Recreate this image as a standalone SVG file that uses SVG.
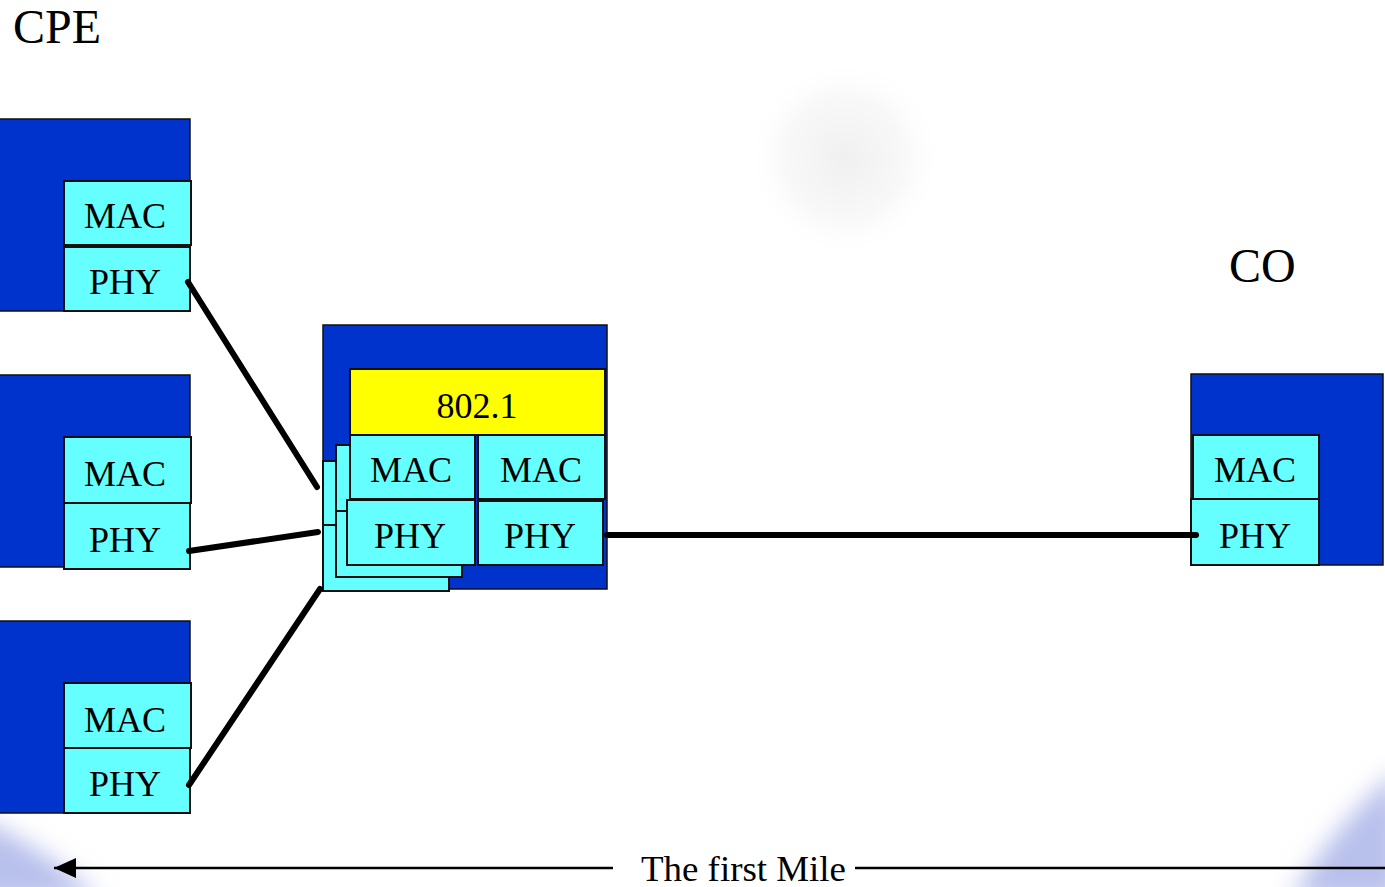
<svg xmlns="http://www.w3.org/2000/svg" width="1385" height="887" viewBox="0 0 1385 887">
<defs>
<style>
.blue{fill:#0033CC;stroke:#111;stroke-width:1.5}
.cy{fill:#66FFFF;stroke:#111;stroke-width:2}
.ye{fill:#FFFF00;stroke:#111;stroke-width:2}
.t{font-family:"Liberation Serif","Times New Roman",Times,serif;fill:#000}
.lb{font-size:36px;text-anchor:middle}
.link{stroke:#000;stroke-width:6;stroke-linecap:round;fill:none}
</style>
<radialGradient id="glow" cx="0.5" cy="0.5" r="0.5">
<stop offset="0" stop-color="#f0f0f0"/>
<stop offset="0.6" stop-color="#f8f8f8"/>
<stop offset="1" stop-color="#ffffff" stop-opacity="0"/>
</radialGradient>
<filter id="blur" x="-50%" y="-50%" width="200%" height="200%"><feGaussianBlur stdDeviation="12"/></filter>
<marker id="ah" markerWidth="24" markerHeight="22" refX="23" refY="11" orient="auto" markerUnits="userSpaceOnUse">
<path d="M23,11 L1,1 L1,21 Z" fill="#000"/>
</marker>
</defs>
<rect width="1385" height="887" fill="#fff"/>
<g id="background">
<ellipse cx="845" cy="158" rx="100" ry="100" fill="url(#glow)"/>
<path d="M-30,815 C20,835 70,870 100,900 L-30,900 Z" fill="#b8c0ec" filter="url(#blur)"/>
<path d="M1400,770 C1360,800 1320,850 1290,900 L1400,900 Z" fill="#b8c0ec" filter="url(#blur)"/>
</g>
<text class="t" x="13" y="43" font-size="48">CPE</text>
<text class="t" x="1229" y="282" font-size="48">CO</text>
<g id="cpe1">
<rect class="blue" x="-2" y="119" width="192" height="192"/>
<rect class="cy" x="64" y="181" width="127" height="64"/>
<rect class="cy" x="64" y="247" width="126" height="64"/>
<text class="t lb" x="125" y="228">MAC</text>
<text class="t lb" x="125" y="294">PHY</text>
</g>
<g id="cpe2">
<rect class="blue" x="-2" y="375" width="192" height="192"/>
<rect class="cy" x="64" y="437" width="127" height="66"/>
<rect class="cy" x="64" y="503" width="126" height="66"/>
<text class="t lb" x="125" y="486">MAC</text>
<text class="t lb" x="125" y="552">PHY</text>
</g>
<g id="cpe3">
<rect class="blue" x="-2" y="621" width="192" height="192"/>
<rect class="cy" x="64" y="683" width="127" height="65"/>
<rect class="cy" x="64" y="748" width="126" height="65"/>
<text class="t lb" x="125" y="732">MAC</text>
<text class="t lb" x="125" y="796">PHY</text>
</g>
<g id="bridge">
<rect class="blue" x="323" y="325" width="284" height="264"/>
<rect class="cy" x="323" y="461" width="126" height="64"/>
<rect class="cy" x="323" y="525" width="126" height="66"/>
<rect class="cy" x="336" y="445" width="126" height="66"/>
<rect class="cy" x="336" y="511" width="126" height="66"/>
<rect class="ye" x="350" y="369" width="255" height="66"/>
<text class="t lb" x="477" y="418">802.1</text>
<rect class="cy" x="350" y="435" width="125" height="64"/>
<rect class="cy" x="478" y="435" width="127" height="64"/>
<rect class="cy" x="347" y="500" width="128" height="65"/>
<rect class="cy" x="478" y="501" width="125" height="64"/>
<text class="t lb" x="411" y="482">MAC</text>
<text class="t lb" x="541" y="482">MAC</text>
<text class="t lb" x="410" y="548">PHY</text>
<text class="t lb" x="540" y="548">PHY</text>
</g>
<g id="co">
<rect class="blue" x="1191" y="374" width="192" height="191"/>
<rect class="cy" x="1193" y="435" width="126" height="64"/>
<rect class="cy" x="1191" y="499" width="128" height="66"/>
<text class="t lb" x="1255" y="482">MAC</text>
<text class="t lb" x="1255" y="548">PHY</text>
</g>
<g id="connectors">
<line class="link" x1="188" y1="282" x2="317" y2="487"/>
<line class="link" x1="189" y1="551" x2="318" y2="532"/>
<line class="link" x1="189" y1="785" x2="320" y2="589"/>
<line class="link" x1="607" y1="535" x2="1196" y2="535"/>
<line x1="613" y1="868" x2="54" y2="868" stroke="#000" stroke-width="2.5" marker-end="url(#ah)"/>
<line x1="855" y1="868" x2="1385" y2="868" stroke="#000" stroke-width="2.5"/>
</g>
<text class="t" x="641" y="881" font-size="36" textLength="205" lengthAdjust="spacingAndGlyphs">The first Mile</text>
</svg>
